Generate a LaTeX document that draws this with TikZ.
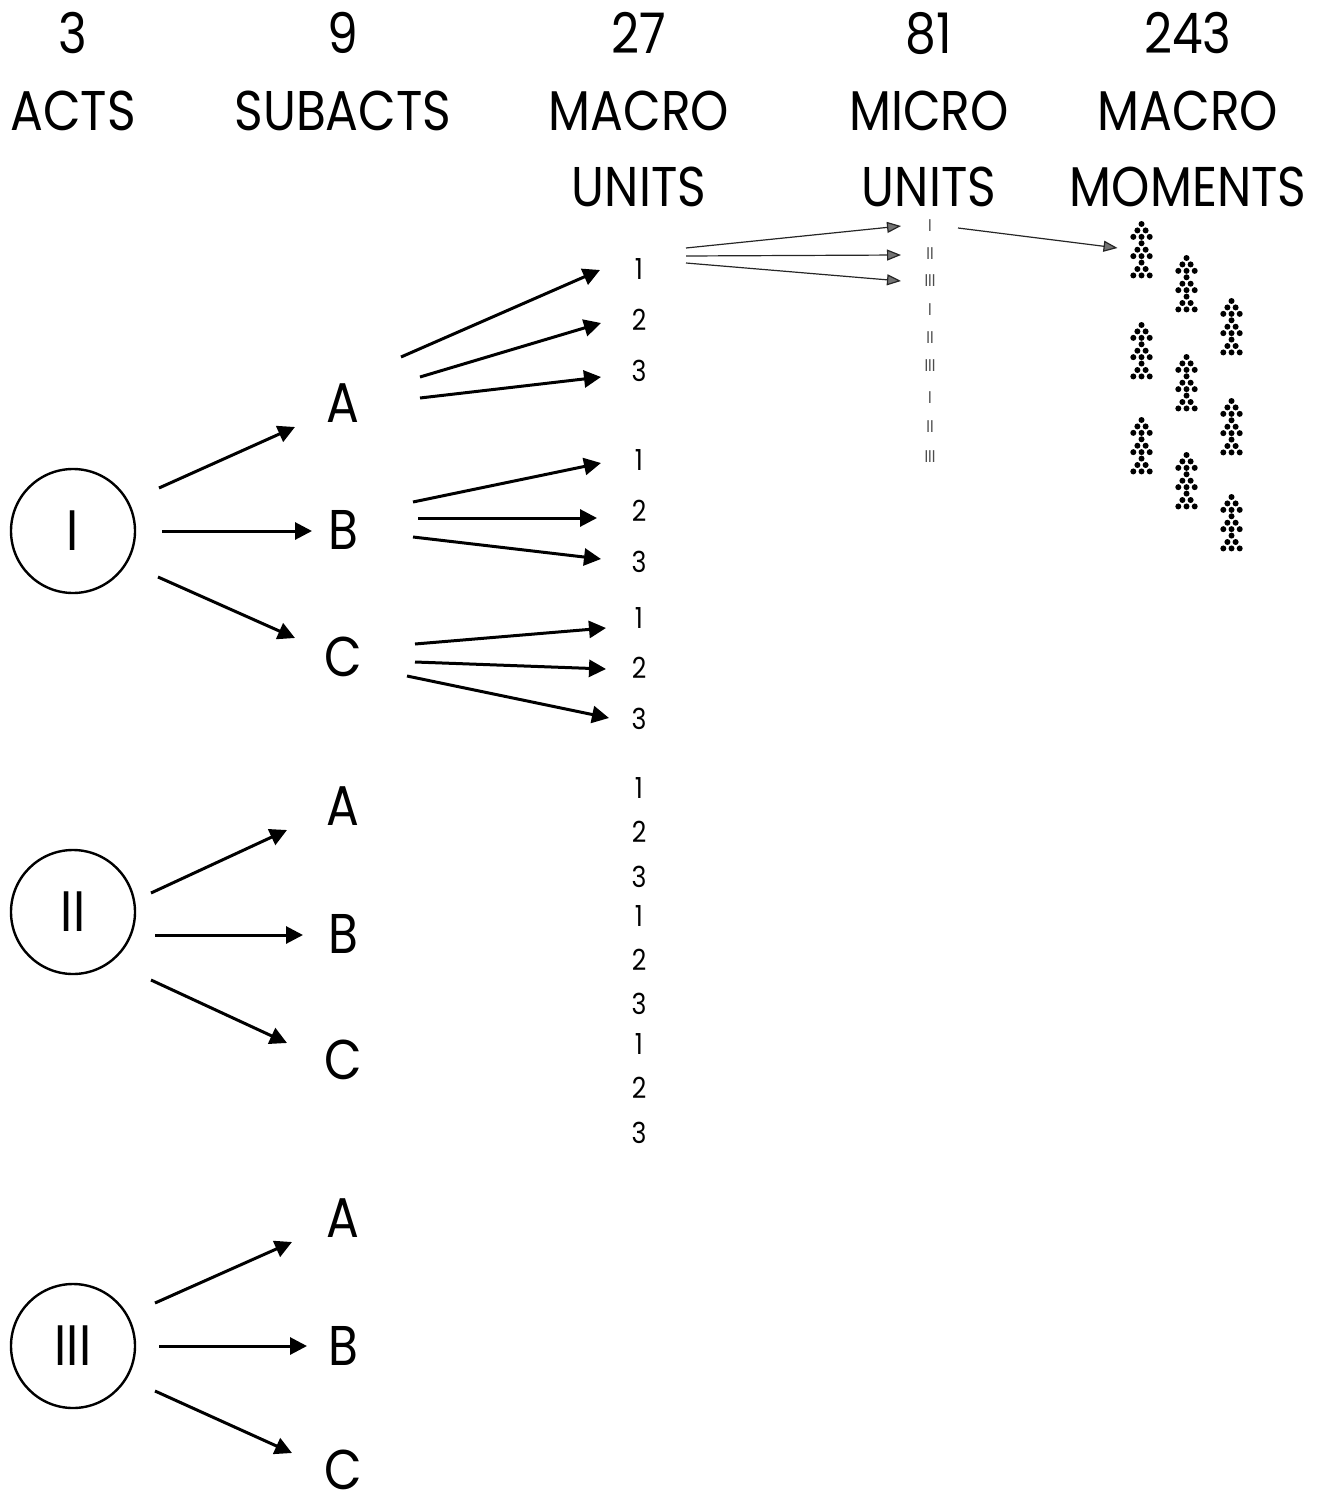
\documentclass[tikz,border=0pt]{standalone}
\usepackage{fontspec}
\setmainfont{Poppins}[FakeStretch=0.87]
\usetikzlibrary{arrows.meta,calc}
\tikzset{
  hd/.style={font=\fontsize{56}{60}\selectfont, inner sep=0pt, anchor=base},
  sub/.style={font=\fontsize{56}{60}\selectfont, inner sep=0pt},
  act/.style={circle, draw, line width=2.4pt, minimum size=124pt, inner sep=0pt, font=\fontsize{57}{60}\selectfont},
  mac/.style={font=\fontsize{29}{32}\selectfont, inner sep=0pt},
  tal/.style={font=\fontsize{17}{18}\selectfont, inner sep=0pt, text=black!70},
  big/.style={line width=3pt, -{Triangle[length=17pt,width=17pt]}},
  thinarr/.style={line width=1.2pt, draw=black!85, -{Triangle[length=14pt,width=11pt,fill=black!55]}},
  cluster/.pic={
    \foreach \t in {0,1,2}{
      \foreach \r in {0,1,2}{
        \foreach \c in {0,...,\r}{
          \fill ({(\c-\r/2)*8.2},{(3*\t+\r)*6.43}) circle (3pt);
        }
      }
    }
  }
}
\newcommand\lnk[5][big]{\draw[#1] ($(#2)+(#3)$) -- ($(#4)+(#5)$);}
\begin{document}
\begin{tikzpicture}[x=1pt,y=-1pt]
\useasboundingbox (0,0) rectangle (1333,1495);
% headers
\node[hd] (n1) at (73,54) {3};
\node[hd] (t1) at (73,131) {ACTS};
\node[hd] (n2) at (343,54) {9};
\node[hd] (t2) at (343,131) {SUBACTS};
\node[hd] (n3) at (639,54) {27};
\node[hd] (t3a) at (639,131) {MACRO};
\node[hd] (t3b) at (639,207) {UNITS};
\node[hd] (n4) at (929,54) {81};
\node[hd] (t4a) at (929,131) {MICRO};
\node[hd] (t4b) at (929,207) {UNITS};
\node[hd] (n5) at (1188,54) {243};
\node[hd] (t5a) at (1188,131) {MACRO};
\node[hd] (t5b) at (1188,207) {MOMENTS};
% acts
\node[act] (a1) at (73,531) {I};
\node[act] (a2) at (73,912) {II};
\node[act] (a3) at (73,1346) {III};
% subacts
\node[sub] (s1A) at (343,403) {A};
\node[sub] (s1B) at (343,530) {B};
\node[sub] (s1C) at (343,657) {C};
\node[sub] (s2A) at (343,806) {A};
\node[sub] (s2B) at (343,934) {B};
\node[sub] (s2C) at (343,1060) {C};
\node[sub] (s3A) at (343,1218) {A};
\node[sub] (s3B) at (343,1346) {B};
\node[sub] (s3C) at (343,1470) {C};
% macro units
\foreach \i/\y/\l in {1/269/1,2/320/2,3/371/3,4/460/1,5/511/2,6/562/3,7/618/1,8/668/2,9/719/3,
  10/788/1,11/832/2,12/877/3,13/916/1,14/960/2,15/1004/3,16/1044/1,17/1088/2,18/1133/3}
  \node[mac] (m\i) at (639,\y) {\l};
% micro units
\foreach \i/\y/\l in {1/226/I,2/254/II,3/281/III,4/310/I,5/338/II,6/366/III,7/398/I,8/427/II,9/457/III}
  \node[tal] (u\i) at (930,\y) {\l};
% macro moments
\foreach \i/\x/\y in {1/1141.5/224,2/1141.5/325,3/1141.5/420,4/1186.5/258,5/1186.5/357,6/1186.5/455,7/1231.5/301,8/1231.5/401,9/1231.5/497}
  \coordinate (k\i) at (\x,\y);
\foreach \i in {1,...,9} \pic at (k\i) {cluster};
% act -> subact
\lnk{a1}{86,-43}{s1A}{-48,24}
\lnk{a1}{89,0}{s1B}{-31,1}
\lnk{a1}{85,46}{s1C}{-48,-19}
\lnk{a2}{78,-19}{s2A}{-56,24}
\lnk{a2}{82,23}{s2B}{-40,1}
\lnk{a2}{78,68}{s2C}{-56,-17}
\lnk{a3}{82,-43}{s3A}{-51,24}
\lnk{a3}{86,0}{s3B}{-36,0}
\lnk{a3}{82,45}{s3C}{-51,-17}
% subact -> macro units
\lnk{s1A}{58,-46}{m1}{-39,1}
\lnk{s1A}{77,-26}{m2}{-38,3}
\lnk{s1A}{77,-5}{m3}{-38,6}
\lnk{s1B}{70,-28}{m4}{-38,3}
\lnk{s1B}{75,-12}{m5}{-42,7}
\lnk{s1B}{70,7}{m6}{-38,-3}
\lnk{s1C}{72,-13}{m7}{-33,10}
\lnk{s1C}{72,5}{m8}{-33,1}
\lnk{s1C}{64,19}{m9}{-30,-1}
% macro unit -> micro units
\lnk[thinarr]{m1}{47,-21}{u1}{-29,0}
\lnk[thinarr]{m1}{47,-13}{u2}{-29,1}
\lnk[thinarr]{m1}{47,-6}{u3}{-29,0}
% micro unit -> moments
\lnk[thinarr]{u1}{28,2}{k1}{-24,24}
\end{tikzpicture}
\end{document}
